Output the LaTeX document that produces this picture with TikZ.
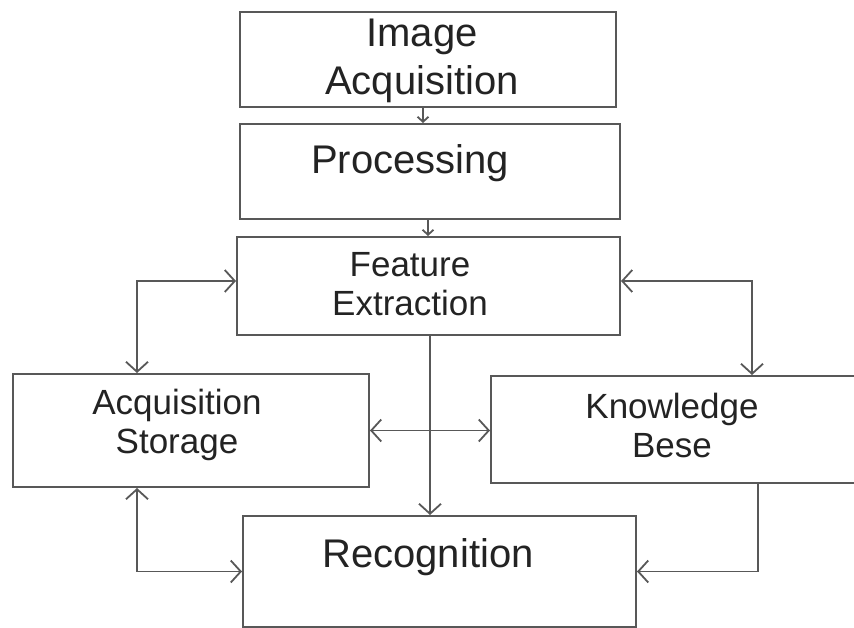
\documentclass[tikz,border=0pt]{standalone}
\usepackage{fontspec}
\setmainfont{Liberation Sans}
\usetikzlibrary{arrows.meta}
\definecolor{boxgray}{RGB}{88,88,88}
\definecolor{textgray}{RGB}{35,35,35}

\begin{document}
\begin{tikzpicture}[
  x=1bp,
  y=-1bp,
  box/.style={
    draw=boxgray,
    line width=2bp,
    rectangle,
    inner sep=0pt
  },
  big text/.style={
    text=textgray,
    align=center,
    inner sep=0pt,
    font=\fontsize{40bp}{48bp}\selectfont
  },
  mid text/.style={
    text=textgray,
    align=center,
    inner sep=0pt,
    font=\fontsize{35bp}{39bp}\selectfont
  },
  link/.style={
    draw=boxgray,
    line width=1.8bp,
    >={Straight Barb[length=10bp,width=22bp]}
  },
  small link/.style={
    link,
    >={Straight Barb[length=5bp,width=11bp]}
  },
]
\path[use as bounding box, clip] (0,0) rectangle (854,628);

\node[box, minimum width=376bp, minimum height=95bp,
  label={[big text, shift={(-6,1.4)}]center:Image\\Acquisition}] (ia) at (428,59.5) {};
\node[box, minimum width=380bp, minimum height=95bp,
  label={[big text, shift={(-20,-8.6)}]center:Processing}] (pr) at (430,171.5) {};
\node[box, minimum width=383bp, minimum height=98bp,
  label={[mid text, shift={(-18.5,-1.8)}]center:Feature\\Extraction}] (fe) at (428.5,286) {};
\node[box, minimum width=356bp, minimum height=113bp,
  label={[mid text, shift={(-14,-5.3)}]center:Acquisition\\Storage}] (as) at (191,430.5) {};
\node[box, minimum width=379bp, minimum height=107bp,
  label={[mid text, shift={(-8.5,-3.8)}]center:Knowledge\\Bese}] (kb) at (680.5,429.5) {};
\node[box, minimum width=393bp, minimum height=111bp,
  label={[big text, shift={(-11.5,-14.6)}]center:Recognition}] (rc) at (439.5,571.5) {};

\draw[small link, ->] ([xshift=-5bp]ia.south) -- ([xshift=-5bp]ia.south |- pr.north);
\draw[small link, ->] ([xshift=-2bp]pr.south) -- ([xshift=-2bp]pr.south |- fe.north);
\draw[link, <->] ([yshift=5bp]fe.west) -| ([xshift=-54bp]as.north);
\draw[link, <->] ([yshift=5bp]fe.east) -| ([xshift=71.5bp]kb.north);
\draw[link, ->] ([xshift=1.5bp]fe.south) -- ([xshift=1.5bp]fe.south |- rc.north);
\draw[link, <->] (as.east) -- (as.east -| kb.west);
\draw[link, <->] ([xshift=-54bp]as.south) |- (rc.west);
\draw[link, ->] ([xshift=77.5bp]kb.south) |- (rc.east);
\end{tikzpicture}
\end{document}
